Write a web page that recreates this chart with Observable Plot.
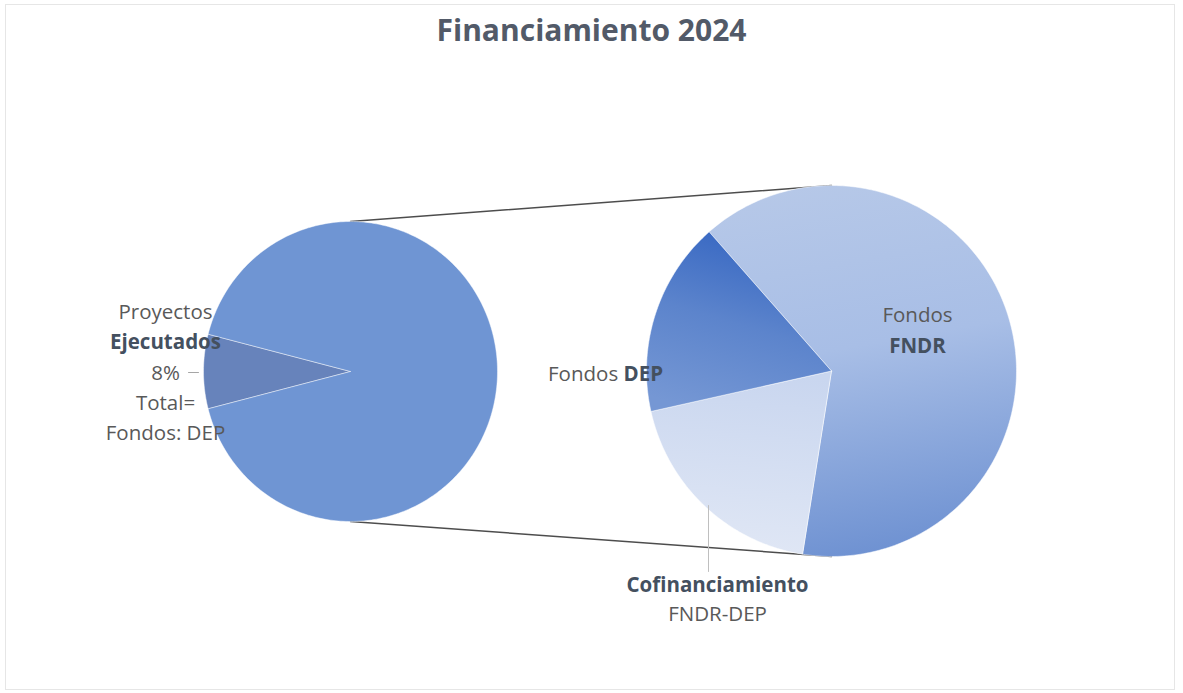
<!DOCTYPE html>
<html>
<head>
<meta charset="utf-8">
<script src="https://cdn.jsdelivr.net/npm/d3@7"></script>
<script src="https://cdn.jsdelivr.net/npm/@observablehq/plot@0.6"></script>
<style>
  html, body { margin: 0; padding: 0; background: #fff; }
  #wrap { position: relative; width: 1183px; height: 693px; overflow: hidden; font-family: "Open Sans", sans-serif; }
  #frame { position: absolute; left: 5px; top: 4px; width: 1168px; height: 684px; border: 1px solid #e6e6e6; pointer-events: none; }
  #title { height: 58px; display: flex; align-items: center; justify-content: center; font-weight: 700; font-size: 30px; color: #525a68; padding-top: 0px; box-sizing: border-box; }
  #chart svg { display: block; }
</style>
</head>
<body>
<div id="wrap">
  <div id="frame"></div>
  <div id="title"></div>
  <div id="chart"></div>
</div>
<script>
// ---------------- DATA ----------------
const chartTitle = "Financiamiento 2024";
const mainCategories = ["Proyectos Ejecutados", "Otros"];
const mainValues = [8, 92];
const mainLabelLines = ["Proyectos", "Ejecutados", "8%", "Total=", "Fondos: DEP"];
const mainLabelBold = [false, true, false, false, false];

const subCategories = ["Fondos FNDR", "Cofinanciamiento FNDR-DEP", "Fondos DEP"];
const subValues = [64, 19, 17];
const subLabelLines = [["Fondos", "FNDR"], ["Cofinanciamiento", "FNDR-DEP"], ["Fondos ", "DEP"]];
const subLabelBold = [[false, true], [true, false], [false, true]];

// ---------------- LAYOUT / STYLE ----------------
const W = 1183, H = 635, TOP = 58;
const L = {cx: 350, cy: 371, rx: 147, ry: 150};
const R = {cx: 831, cy: 370.5, rx: 185, ry: 185.5};
const FONT = "Open Sans";
const FS = 20.5;
const REG = "#595959", BOLD = "#44505f";

document.getElementById("title").textContent = chartTitle;

const mainFill = {"Proyectos Ejecutados": "#6783bb", "Otros": "#6f95d3"};
const subFill = {
  "Fondos FNDR": "url(#gFNDR)",
  "Cofinanciamiento FNDR-DEP": "url(#gCOF)",
  "Fondos DEP": "url(#gDEP)"
};

function deg(a) { return a * Math.PI / 180; }

function pieArcs(cats, vals, start) {
  const data = cats.map((c, i) => ({key: c, value: vals[i]}));
  return d3.pie().sort(null).value(d => d.value)
    .startAngle(start).endAngle(start + 2 * Math.PI)(data);
}

function slicePoints(arc, g) {
  const pts = [{x: g.cx, y: g.cy}];
  const n = Math.max(8, Math.ceil((arc.endAngle - arc.startAngle) / deg(1)));
  for (let i = 0; i <= n; i++) {
    const a = arc.startAngle + (arc.endAngle - arc.startAngle) * i / n;
    pts.push({x: g.cx + g.rx * Math.sin(a), y: g.cy - g.ry * Math.cos(a)});
  }
  pts.push({x: g.cx, y: g.cy});
  return pts;
}

// main pie: small slice centred on the left (270deg)
const mainArcs = pieArcs(mainCategories, mainValues, deg(270) - Math.PI * mainValues[0] / 100);
// secondary pie
const subArcs = pieArcs(subCategories, subValues, deg(-41.4));

const marks = [];

// connector lines
const connectors = [
  [{x: L.cx, y: L.cy - L.ry}, {x: R.cx, y: R.cy - R.ry}],
  [{x: L.cx, y: L.cy + L.ry}, {x: R.cx, y: R.cy + R.ry}]
];
connectors.forEach(c => marks.push(Plot.line(c, {x: "x", y: "y", stroke: "#3a3a3a", strokeWidth: 1.5, strokeOpacity: 0.9})));

mainArcs.forEach(a => {
  marks.push(Plot.line(slicePoints(a, L), {
    x: "x", y: "y", fill: mainFill[a.data.key], stroke: "#ffffff", strokeOpacity: 0.45, strokeWidth: 1
  }));
});
subArcs.forEach(a => {
  marks.push(Plot.line(slicePoints(a, R), {
    x: "x", y: "y", fill: subFill[a.data.key], stroke: "#ffffff", strokeOpacity: 0.5, strokeWidth: 1
  }));
});

// leader lines
marks.push(Plot.line([{x: 188, y: 372}, {x: 198, y: 372}], {x: "x", y: "y", stroke: "#a6a6a6", strokeWidth: 1}));
marks.push(Plot.line([{x: 708, y: 505}, {x: 708, y: 571}], {x: "x", y: "y", stroke: "#bfbfbf", strokeWidth: 1}));

// labels
function textMark(str, x, y, bold, anchor = "middle") {
  return Plot.text([str], {
    x, y, text: d => d, textAnchor: anchor, lineAnchor: "middle",
    fontFamily: FONT, fontSize: FS, fontWeight: bold ? 700 : 400, fill: bold ? BOLD : REG
  });
}
mainLabelLines.forEach((t, i) => {
  const txt = i === 2 ? `${mainValues[0]}%` : t;
  marks.push(textMark(txt, 165, 312 + i * 30.3, mainLabelBold[i]));
});
// Fondos FNDR
marks.push(textMark(subLabelLines[0][0], 917, 315, subLabelBold[0][0]));
marks.push(textMark(subLabelLines[0][1], 917, 346, subLabelBold[0][1]));
// Cofinanciamiento
marks.push(textMark(subLabelLines[1][0], 717, 585, subLabelBold[1][0]));
marks.push(textMark(subLabelLines[1][1], 717, 614, subLabelBold[1][1]));
// Fondos DEP (mixed weight on one line)
marks.push(textMark(subLabelLines[2][0], 623, 374, subLabelBold[2][0], "end"));
marks.push(textMark(subLabelLines[2][1], 623, 374, subLabelBold[2][1], "start"));

const svg = Plot.plot({
  width: W, height: H,
  margin: 0,
  x: {domain: [0, W], range: [0, W], axis: null},
  y: {domain: [TOP, TOP + H], range: [0, H], axis: null},
  marks
});

// gradients
const NS = "http://www.w3.org/2000/svg";
const defs = document.createElementNS(NS, "defs");
function grad(id, x1, y1, x2, y2, stops) {
  const g = document.createElementNS(NS, "linearGradient");
  g.setAttribute("id", id);
  g.setAttribute("x1", x1); g.setAttribute("y1", y1);
  g.setAttribute("x2", x2); g.setAttribute("y2", y2);
  stops.forEach(([o, c]) => {
    const s = document.createElementNS(NS, "stop");
    s.setAttribute("offset", o); s.setAttribute("stop-color", c);
    g.appendChild(s);
  });
  defs.appendChild(g);
}
grad("gFNDR", 0.3, 0, 0.45, 1, [[0, "#b6c8e8"], [0.45, "#a8bee6"], [1, "#6f92d2"]]);
grad("gDEP", 0.6, 0, 0.3, 1, [[0, "#3566c2"], [0.5, "#5c84cc"], [1, "#7597d4"]]);
grad("gCOF", 0.5, 0, 0.4, 1, [[0, "#c9d6ef"], [1, "#e0e7f5"]]);
svg.insertBefore(defs, svg.firstChild);

document.getElementById("chart").appendChild(svg);
</script>
</body>
</html>
